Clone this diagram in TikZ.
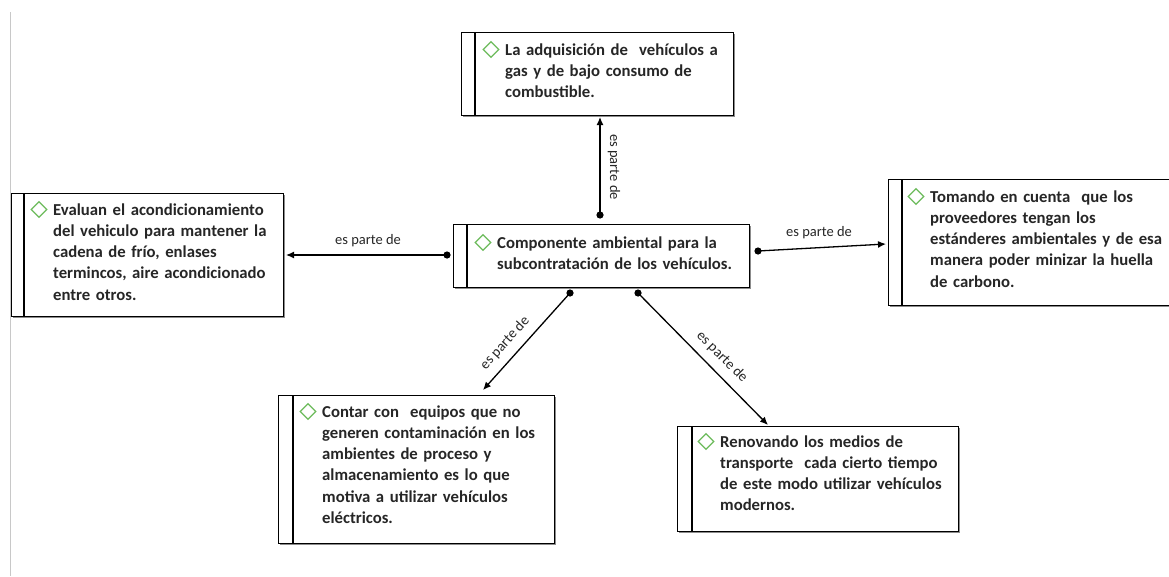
\documentclass[tikz,border=0pt]{standalone}
\usepackage{fontspec}
\setmainfont{Carlito}
\usetikzlibrary{arrows.meta,shapes.geometric,shadows}
\definecolor{ink}{HTML}{262626}
\definecolor{gemgreen}{HTML}{6DBB5C}
\definecolor{margin}{HTML}{C8C8C8}
\begin{document}
\begin{tikzpicture}[x=1pt,y=-1pt,
  box/.style={draw=black, line width=1.3pt, fill=white, anchor=north west,
    inner sep=0pt, drop shadow={shadow xshift=1.2pt, shadow yshift=-1.2pt,
    fill=black!45, opacity=1}},
  bar/.style={line width=1.3pt},
  txt/.style={anchor=base west, text width=262pt, align=left, inner sep=0pt,
    text=ink, font=\fontsize{16.7}{21.3}\selectfont\bfseries},
  gem/.style={diamond, draw=gemgreen, line width=1.3pt, minimum width=16pt,
    minimum height=16pt, inner sep=0pt, aspect=1},
  conn/.style={line width=1.3pt, -{Latex[length=8pt,width=7pt]}},
  lbl/.style={inner sep=0pt, text=ink, font=\fontsize{14.5}{16}\selectfont},
]
\useasboundingbox (0,0) rectangle (1169,576);
% page margin rule
\draw[margin, line width=1pt] (10,12) -- (10,576);

% boxes
\node[box, minimum width=272pt, minimum height=83pt]  (top)    at (461,32)  {};
\node[box, minimum width=272pt, minimum height=123pt] (left)   at (11,193)  {};
\node[box, minimum width=296pt, minimum height=63pt]  (center) at (453,224) {};
\node[box, minimum width=292pt, minimum height=126pt] (right)  at (888,179) {};
\node[box, minimum width=276pt, minimum height=148pt] (botL)   at (278,395) {};
\node[box, minimum width=281pt, minimum height=105pt] (botR)   at (677,426) {};

% left-hand bars inside the boxes
\draw[bar] ([xshift=14pt]top.north west)    -- ([xshift=14pt]top.south west);
\draw[bar] ([xshift=13pt]left.north west)   -- ([xshift=13pt]left.south west);
\draw[bar] ([xshift=14pt]center.north west) -- ([xshift=14pt]center.south west);
\draw[bar] ([xshift=14pt]right.north west)  -- ([xshift=14pt]right.south west);
\draw[bar] ([xshift=15pt]botL.north west)   -- ([xshift=15pt]botL.south west);
\draw[bar] ([xshift=15pt]botR.north west)   -- ([xshift=15pt]botR.south west);

% texts
\node[txt] (topT) at (505,55)
  {La adquisición de\ \ vehículos a\\gas y de bajo consumo de\\combustible.};
\node[txt] (leftT) at (53,215)
  {Evaluan el acondicionamiento\\del vehiculo para mantener la\\cadena de frío, enlases\\termincos, aire acondicionado\\entre otros.};
\node[txt] (centerT) at (497,248)
  {Componente ambiental para la\\subcontratación de los vehículos.};
\node[txt] (rightT) at (930,202)
  {Tomando en cuenta\ \ que los\\proveedores tengan los\\estánderes ambientales y de esa\\manera poder minizar la huella\\de carbono.};
\node[txt] (botLT) at (322,417)
  {Contar con\ \ equipos que no\\generen contaminación en los\\ambientes de proceso y\\almacenamiento es lo que\\motiva a utilizar vehículos\\eléctricos.};
\node[txt] (botRT) at (720,447)
  {Renovando los medios de\\transporte\ \ cada cierto tiempo\\de este modo utilizar vehículos\\modernos.};

% green diamonds before the first line
\foreach \t in {topT,leftT,centerT,rightT,botLT,botRT}
  \node[gem] (\t-gem) at ([xshift=-14pt,yshift=5.5pt]\t.base west) {};

% connector ends
\coordinate (dTop) at (600,215);  \coordinate (aTop) at (600,117);
\coordinate (dLeft) at (447,255); \coordinate (aLeft) at (286,255);
\coordinate (dRight) at (758,251);\coordinate (aRight) at (886,244);
\coordinate (dBL) at (570,293);   \coordinate (aBL) at (483,390);
\coordinate (dBR) at (638,293);   \coordinate (aBR) at (768,425);

% connectors
\foreach \s/\e in {dTop/aTop,dLeft/aLeft,dRight/aRight,dBL/aBL,dBR/aBR}{
  \draw[conn] (\s) -- (\e);
  \fill (\s) circle (3.6);
}

% connector labels
\node[lbl, rotate=-90] (lTop)   at (614,167) {es parte de};
\node[lbl]             (lLeft)  at (368,241) {es parte de};
\node[lbl]             (lRight) at (819,233) {es parte de};
\node[lbl, rotate=48]  (lBL)    at (505,343) {es parte de};
\node[lbl, rotate=-45] (lBR)    at (722,357) {es parte de};
\end{tikzpicture}
\end{document}
